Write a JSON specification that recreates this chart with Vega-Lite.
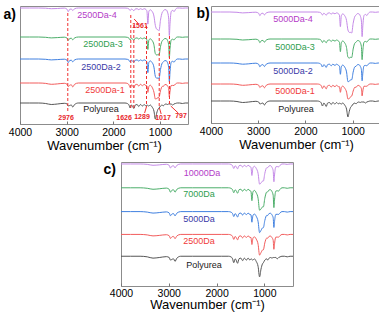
{
  "$schema": "https://vega.github.io/schema/vega-lite/v6.json",
  "padding": {"left": 2, "top": 5, "right": 0, "bottom": 0},
  "background": "white",
  "config": {
    "font": "Liberation Sans",
    "view": {"stroke": "#8c8c8c", "strokeWidth": 1},
    "axisX": {"tickSize": -3, "tickColor": "#777777", "labelPadding": 6, "labelFontSize": 10.5, "labelFlush": false, "labelOverlap": false, "domain": false, "grid": false, "titleFontSize": 13, "titleFontWeight": "normal", "titlePadding": 2, "labelColor": "#000000", "titleColor": "#000000"},
    "axisY": {"labels": false, "ticks": false, "domain": false, "grid": false, "titleAngle": 0, "titleAlign": "left", "titleBaseline": "top", "titleFontSize": 14, "titleFontWeight": "bold", "titleColor": "#000000"}
  },
  "datasets": {
    "specA": [
      {"wn":4000,"P":21,"S1":41,"S2":65,"S3":87,"S4":116},
      {"wn":3800,"P":21,"S1":41,"S2":65,"S3":87,"S4":116},
      {"wn":3600,"P":21,"S1":41,"S2":65,"S3":87,"S4":116},
      {"wn":3450,"P":20.5,"S1":40.6,"S2":64.7,"S3":86.7,"S4":115.8},
      {"wn":3330,"P":19.5,"S1":39.7,"S2":64.1,"S3":86.1,"S4":115.3},
      {"wn":3200,"P":20,"S1":40.1,"S2":64.4,"S3":86.4,"S4":115.5},
      {"wn":3050,"P":20.7,"S1":40.7,"S2":64.8,"S3":86.8,"S4":115.9},
      {"wn":2990,"P":20,"S1":39.7,"S2":63.7,"S3":85.8,"S4":114.7},
      {"wn":2965,"P":18,"S1":37.3,"S2":61.4,"S3":83.6,"S4":112.3},
      {"wn":2935,"P":18.5,"S1":38.8,"S2":63.5,"S3":85.5,"S4":114.8},
      {"wn":2900,"P":19,"S1":39.2,"S2":63.8,"S3":85.8,"S4":115},
      {"wn":2870,"P":17,"S1":37.1,"S2":62.2,"S3":84.2,"S4":113.5},
      {"wn":2830,"P":19.5,"S1":39.7,"S2":64.1,"S3":86.1,"S4":115.3},
      {"wn":2750,"P":21,"S1":41,"S2":65,"S3":87,"S4":116},
      {"wn":2500,"P":21,"S1":41,"S2":65,"S3":87,"S4":116},
      {"wn":2200,"P":21,"S1":41,"S2":65,"S3":87,"S4":116},
      {"wn":1900,"P":21,"S1":41,"S2":65,"S3":87,"S4":116},
      {"wn":1750,"P":21,"S1":41,"S2":65,"S3":87,"S4":116},
      {"wn":1700,"P":20.5,"S1":40.6,"S2":64.7,"S3":86.7,"S4":115.8},
      {"wn":1665,"P":19,"S1":39.2,"S2":63.8,"S3":85.8,"S4":115},
      {"wn":1640,"P":16,"S1":36.5,"S2":62,"S3":84,"S4":113.5},
      {"wn":1610,"P":19,"S1":39.2,"S2":63.8,"S3":85.8,"S4":115},
      {"wn":1590,"P":18,"S1":38.3,"S2":63.2,"S3":85.2,"S4":114.5},
      {"wn":1560,"P":15.5,"S1":36.1,"S2":61.7,"S3":83.7,"S4":113.3},
      {"wn":1530,"P":19,"S1":39.2,"S2":63.8,"S3":85.8,"S4":115},
      {"wn":1490,"P":19.5,"S1":39.7,"S2":64.1,"S3":86.1,"S4":115.3},
      {"wn":1455,"P":17.5,"S1":37.9,"S2":62.9,"S3":84.9,"S4":114.3},
      {"wn":1420,"P":19.5,"S1":39.7,"S2":64.1,"S3":86.1,"S4":115.3},
      {"wn":1375,"P":18,"S1":38.3,"S2":63.2,"S3":85.2,"S4":114.5},
      {"wn":1340,"P":19.5,"S1":39.7,"S2":64.1,"S3":86.1,"S4":115.3},
      {"wn":1300,"P":18,"S1":38.3,"S2":63.2,"S3":85.2,"S4":114.5},
      {"wn":1280,"P":19,"S1":38.2,"S2":62,"S3":84.2,"S4":112.8},
      {"wn":1260,"P":18.5,"S1":31.6,"S2":51.4,"S3":74.5,"S4":99.9},
      {"wn":1240,"P":18,"S1":37.3,"S2":61.4,"S3":83.6,"S4":112.3},
      {"wn":1210,"P":19,"S1":38.8,"S2":63.1,"S3":85.2,"S4":114.2},
      {"wn":1170,"P":17,"S1":36.8,"S2":61.5,"S3":83.6,"S4":112.7},
      {"wn":1130,"P":13,"S1":31.9,"S2":56.9,"S3":79.2,"S4":108},
      {"wn":1100,"P":5,"S1":25,"S2":47.7,"S3":70.4,"S4":98.6},
      {"wn":1070,"P":11,"S1":25.5,"S2":45.8,"S3":69,"S4":94.8},
      {"wn":1040,"P":15,"S1":26.5,"S2":46,"S3":69.4,"S4":94.1},
      {"wn":1020,"P":16,"S1":26.8,"S2":45.5,"S3":69,"S4":93.3},
      {"wn":990,"P":18,"S1":33.1,"S2":54.4,"S3":77.2,"S4":103.7},
      {"wn":950,"P":19,"S1":37.6,"S2":61.2,"S3":83.4,"S4":111.8},
      {"wn":930,"P":18,"S1":37.5,"S2":61.9,"S3":84,"S4":112.9},
      {"wn":900,"P":19.5,"S1":39.3,"S2":63.4,"S3":85.5,"S4":114.4},
      {"wn":870,"P":20,"S1":39.5,"S2":63.3,"S3":85.4,"S4":114.2},
      {"wn":840,"P":19.5,"S1":38.1,"S2":61.5,"S3":83.7,"S4":112},
      {"wn":815,"P":20,"S1":35.6,"S2":56.7,"S3":79.4,"S4":106.1},
      {"wn":800,"P":20,"S1":27.1,"S2":42.4,"S3":66.4,"S4":88.5},
      {"wn":785,"P":20,"S1":33,"S2":52.3,"S3":75.4,"S4":100.7},
      {"wn":760,"P":20,"S1":38.5,"S2":61.8,"S3":84,"S4":112.3},
      {"wn":730,"P":19,"S1":38.6,"S2":62.7,"S3":84.8,"S4":113.7},
      {"wn":700,"P":20,"S1":38.5,"S2":61.8,"S3":84,"S4":112.3},
      {"wn":670,"P":20.5,"S1":39.9,"S2":63.6,"S3":85.7,"S4":114.4},
      {"wn":630,"P":21,"S1":41,"S2":65,"S3":87,"S4":116},
      {"wn":580,"P":21,"S1":41,"S2":65,"S3":87,"S4":116},
      {"wn":520,"P":20.5,"S1":40.6,"S2":64.7,"S3":86.7,"S4":115.8},
      {"wn":460,"P":21,"S1":41,"S2":65,"S3":87,"S4":116},
      {"wn":400,"P":21,"S1":41,"S2":65,"S3":87,"S4":116}
    ],
    "specB": [
      {"wn":4000,"P":22,"S1":39,"S2":60,"S3":84,"S4":111},
      {"wn":3800,"P":22,"S1":39,"S2":60,"S3":84,"S4":111},
      {"wn":3600,"P":22,"S1":39,"S2":60,"S3":84,"S4":111},
      {"wn":3450,"P":21.5,"S1":38.6,"S2":59.6,"S3":83.7,"S4":110.7},
      {"wn":3330,"P":20.5,"S1":37.7,"S2":58.8,"S3":83,"S4":110.1},
      {"wn":3200,"P":21,"S1":38.1,"S2":59.2,"S3":83.3,"S4":110.4},
      {"wn":3050,"P":21.7,"S1":38.7,"S2":59.8,"S3":83.8,"S4":110.8},
      {"wn":2990,"P":21,"S1":37.8,"S2":58.7,"S3":82.7,"S4":109.7},
      {"wn":2965,"P":19,"S1":35.4,"S2":56.2,"S3":80.3,"S4":107.3},
      {"wn":2935,"P":19.5,"S1":36.8,"S2":58,"S3":82.3,"S4":109.5},
      {"wn":2900,"P":20,"S1":37.2,"S2":58.4,"S3":82.6,"S4":109.8},
      {"wn":2870,"P":18,"S1":35.2,"S2":56.5,"S3":80.8,"S4":108.1},
      {"wn":2830,"P":20.5,"S1":37.7,"S2":58.8,"S3":83,"S4":110.1},
      {"wn":2750,"P":22,"S1":39,"S2":60,"S3":84,"S4":111},
      {"wn":2500,"P":22,"S1":39,"S2":60,"S3":84,"S4":111},
      {"wn":2200,"P":22,"S1":39,"S2":60,"S3":84,"S4":111},
      {"wn":1900,"P":22,"S1":39,"S2":60,"S3":84,"S4":111},
      {"wn":1750,"P":22,"S1":39,"S2":60,"S3":84,"S4":111},
      {"wn":1700,"P":21.5,"S1":38.6,"S2":59.6,"S3":83.7,"S4":110.7},
      {"wn":1665,"P":20,"S1":37.2,"S2":58.4,"S3":82.6,"S4":109.8},
      {"wn":1640,"P":17,"S1":34.5,"S2":56,"S3":80.5,"S4":108},
      {"wn":1610,"P":20,"S1":37.2,"S2":58.4,"S3":82.6,"S4":109.8},
      {"wn":1590,"P":19,"S1":36.3,"S2":57.6,"S3":81.9,"S4":109.2},
      {"wn":1560,"P":16.5,"S1":34.1,"S2":55.6,"S3":80.2,"S4":107.7},
      {"wn":1530,"P":20,"S1":37.2,"S2":58.4,"S3":82.6,"S4":109.8},
      {"wn":1490,"P":20.5,"S1":37.7,"S2":58.8,"S3":83,"S4":110.1},
      {"wn":1455,"P":18.5,"S1":35.9,"S2":57.2,"S3":81.6,"S4":108.9},
      {"wn":1420,"P":20.5,"S1":37.7,"S2":58.8,"S3":83,"S4":110.1},
      {"wn":1375,"P":19,"S1":36.3,"S2":57.6,"S3":81.9,"S4":109.2},
      {"wn":1340,"P":20.5,"S1":37.7,"S2":58.8,"S3":83,"S4":110.1},
      {"wn":1300,"P":19,"S1":36.3,"S2":57.6,"S3":81.9,"S4":109.2},
      {"wn":1280,"P":20,"S1":36.3,"S2":57,"S3":81,"S4":107.9},
      {"wn":1260,"P":19.5,"S1":30.7,"S2":48.7,"S3":71.3,"S4":96.3},
      {"wn":1240,"P":19,"S1":35.4,"S2":56.2,"S3":80.3,"S4":107.3},
      {"wn":1210,"P":20,"S1":36.9,"S2":57.9,"S3":82,"S4":109.1},
      {"wn":1170,"P":18,"S1":34.9,"S2":56,"S3":80.2,"S4":107.4},
      {"wn":1130,"P":14,"S1":31,"S2":51.1,"S3":75.4,"S4":102.6},
      {"wn":1100,"P":6,"S1":24,"S2":41.3,"S3":65.8,"S4":93},
      {"wn":1070,"P":12,"S1":24.5,"S2":41.8,"S3":65,"S4":90.6},
      {"wn":1040,"P":16,"S1":26.5,"S2":43.3,"S3":65.8,"S4":90.6},
      {"wn":1020,"P":17,"S1":27,"S2":43.3,"S3":65.5,"S4":90},
      {"wn":990,"P":19,"S1":31.9,"S2":50.8,"S3":73.9,"S4":99.6},
      {"wn":950,"P":20,"S1":35.9,"S2":56.4,"S3":80.2,"S4":106.9},
      {"wn":930,"P":19,"S1":35.6,"S2":56.6,"S3":80.7,"S4":107.8},
      {"wn":900,"P":20.5,"S1":37.3,"S2":58.3,"S3":82.4,"S4":109.4},
      {"wn":870,"P":21,"S1":37.6,"S2":58.4,"S3":82.3,"S4":109.2},
      {"wn":840,"P":20.5,"S1":36.3,"S2":56.8,"S3":80.6,"S4":107.2},
      {"wn":815,"P":21,"S1":34.3,"S2":53.3,"S3":76.3,"S4":102},
      {"wn":800,"P":21,"S1":27.1,"S2":42.2,"S3":63.3,"S4":86.4},
      {"wn":785,"P":21,"S1":32.1,"S2":49.9,"S3":72.3,"S4":97.2},
      {"wn":760,"P":21,"S1":36.8,"S2":57.2,"S3":80.9,"S4":107.5},
      {"wn":730,"P":20,"S1":36.7,"S2":57.6,"S3":81.6,"S4":108.6},
      {"wn":700,"P":21,"S1":36.8,"S2":57.2,"S3":80.9,"S4":107.5},
      {"wn":670,"P":21.5,"S1":38,"S2":58.8,"S3":82.7,"S4":109.5},
      {"wn":630,"P":22,"S1":39,"S2":60,"S3":84,"S4":111},
      {"wn":580,"P":22,"S1":39,"S2":60,"S3":84,"S4":111},
      {"wn":520,"P":21.5,"S1":38.6,"S2":59.6,"S3":83.7,"S4":110.7},
      {"wn":460,"P":22,"S1":39,"S2":60,"S3":84,"S4":111},
      {"wn":400,"P":22,"S1":39,"S2":60,"S3":84,"S4":111}
    ],
    "specC": [
      {"wn":4000,"P":30,"S1":52,"S2":75,"S3":99,"S4":123},
      {"wn":3800,"P":30,"S1":52,"S2":75,"S3":99,"S4":123},
      {"wn":3600,"P":30,"S1":52,"S2":75,"S3":99,"S4":123},
      {"wn":3450,"P":29.4,"S1":51.5,"S2":74.5,"S3":98.5,"S4":122.6},
      {"wn":3330,"P":28.1,"S1":50.5,"S2":73.5,"S3":97.5,"S4":121.7},
      {"wn":3200,"P":28.7,"S1":51,"S2":74,"S3":98,"S4":122.1},
      {"wn":3050,"P":29.6,"S1":51.7,"S2":74.7,"S3":98.7,"S4":122.7},
      {"wn":2990,"P":28.7,"S1":50.6,"S2":73.6,"S3":97.4,"S4":121.6},
      {"wn":2965,"P":26.1,"S1":47.9,"S2":70.8,"S3":94.5,"S4":118.9},
      {"wn":2935,"P":26.8,"S1":49.5,"S2":72.5,"S3":96.5,"S4":120.8},
      {"wn":2900,"P":27.4,"S1":50,"S2":73,"S3":97,"S4":121.2},
      {"wn":2870,"P":24.8,"S1":47.7,"S2":70.7,"S3":94.6,"S4":119.1},
      {"wn":2830,"P":28.1,"S1":50.5,"S2":73.5,"S3":97.5,"S4":121.7},
      {"wn":2750,"P":30,"S1":52,"S2":75,"S3":99,"S4":123},
      {"wn":2500,"P":30,"S1":52,"S2":75,"S3":99,"S4":123},
      {"wn":2200,"P":30,"S1":52,"S2":75,"S3":99,"S4":123},
      {"wn":1900,"P":30,"S1":52,"S2":75,"S3":99,"S4":123},
      {"wn":1750,"P":30,"S1":52,"S2":75,"S3":99,"S4":123},
      {"wn":1700,"P":29.4,"S1":51.5,"S2":74.5,"S3":98.5,"S4":122.6},
      {"wn":1665,"P":27.4,"S1":50,"S2":73,"S3":97,"S4":121.2},
      {"wn":1640,"P":23.5,"S1":47,"S2":70,"S3":94,"S4":118.5},
      {"wn":1610,"P":27.4,"S1":50,"S2":73,"S3":97,"S4":121.2},
      {"wn":1590,"P":26.1,"S1":49,"S2":72,"S3":96,"S4":120.3},
      {"wn":1560,"P":22.9,"S1":46.5,"S2":69.5,"S3":93.5,"S4":118.1},
      {"wn":1530,"P":27.4,"S1":50,"S2":73,"S3":97,"S4":121.2},
      {"wn":1490,"P":28.1,"S1":50.5,"S2":73.5,"S3":97.5,"S4":121.7},
      {"wn":1455,"P":25.5,"S1":48.5,"S2":71.5,"S3":95.5,"S4":119.9},
      {"wn":1420,"P":28.1,"S1":50.5,"S2":73.5,"S3":97.5,"S4":121.7},
      {"wn":1375,"P":26.1,"S1":49,"S2":72,"S3":96,"S4":120.3},
      {"wn":1340,"P":28.1,"S1":50.5,"S2":73.5,"S3":97.5,"S4":121.7},
      {"wn":1300,"P":26.1,"S1":49,"S2":72,"S3":96,"S4":120.3},
      {"wn":1280,"P":27.4,"S1":48.9,"S2":71.8,"S3":95.5,"S4":119.8},
      {"wn":1260,"P":26.8,"S1":41.8,"S2":64.3,"S3":86,"S4":111.4},
      {"wn":1240,"P":26.1,"S1":47.9,"S2":70.8,"S3":94.5,"S4":118.9},
      {"wn":1210,"P":27.4,"S1":49.6,"S2":72.6,"S3":96.4,"S4":120.7},
      {"wn":1170,"P":24.8,"S1":47.3,"S2":70.3,"S3":94,"S4":118.6},
      {"wn":1130,"P":19.6,"S1":41.9,"S2":64.8,"S3":88.2,"S4":113.3},
      {"wn":1100,"P":9.2,"S1":31.1,"S2":53.8,"S3":76.4,"S4":102.7},
      {"wn":1070,"P":17,"S1":33.6,"S2":56,"S3":77.6,"S4":103.8},
      {"wn":1040,"P":22.2,"S1":36.2,"S2":58.5,"S3":79.7,"S4":105.7},
      {"wn":1020,"P":23.5,"S1":36.5,"S2":58.8,"S3":79.8,"S4":105.8},
      {"wn":990,"P":26.1,"S1":43.4,"S2":66,"S3":88.4,"S4":113.5},
      {"wn":950,"P":27.4,"S1":48.3,"S2":71.2,"S3":94.7,"S4":119.2},
      {"wn":930,"P":26.1,"S1":48.2,"S2":71.1,"S3":94.9,"S4":119.3},
      {"wn":900,"P":28.1,"S1":50.1,"S2":73.1,"S3":96.9,"S4":121.1},
      {"wn":870,"P":28.7,"S1":50.3,"S2":73.3,"S3":97,"S4":121.3},
      {"wn":840,"P":28.1,"S1":48.8,"S2":71.7,"S3":95.2,"S4":119.6},
      {"wn":815,"P":28.7,"S1":46.1,"S2":68.8,"S3":91.4,"S4":116.2},
      {"wn":800,"P":28.7,"S1":37,"S2":59,"S3":79,"S4":105.1},
      {"wn":785,"P":28.7,"S1":43.3,"S2":65.8,"S3":87.6,"S4":112.8},
      {"wn":760,"P":28.7,"S1":49.3,"S2":72.2,"S3":95.7,"S4":120.1},
      {"wn":730,"P":27.4,"S1":49.3,"S2":72.3,"S3":96,"S4":120.4},
      {"wn":700,"P":28.7,"S1":49.3,"S2":72.2,"S3":95.7,"S4":120.1},
      {"wn":670,"P":29.4,"S1":50.8,"S2":73.8,"S3":97.6,"S4":121.7},
      {"wn":630,"P":30,"S1":52,"S2":75,"S3":99,"S4":123},
      {"wn":580,"P":30,"S1":52,"S2":75,"S3":99,"S4":123},
      {"wn":520,"P":29.4,"S1":51.5,"S2":74.5,"S3":98.5,"S4":122.6},
      {"wn":460,"P":30,"S1":52,"S2":75,"S3":99,"S4":123},
      {"wn":400,"P":30,"S1":52,"S2":75,"S3":99,"S4":123}
    ],
    "namesA": [
      {"k":"S4","name":"2500Da-4","wn":2350,"y":109},
      {"k":"S3","name":"2500Da-3","wn":2221,"y":80},
      {"k":"S2","name":"2500Da-2","wn":2264,"y":57},
      {"k":"S1","name":"2500Da-1","wn":2179,"y":34},
      {"k":"P","name":"Polyurea","wn":2264,"y":15}
    ],
    "namesB": [
      {"k":"S4","name":"5000Da-4","wn":2264,"y":104},
      {"k":"S3","name":"5000Da-3","wn":2221,"y":76},
      {"k":"S2","name":"5000Da-2","wn":2264,"y":52},
      {"k":"S1","name":"5000Da-1","wn":2221,"y":32},
      {"k":"P","name":"Polyurea","wn":2200,"y":14}
    ],
    "namesC": [
      {"k":"S4","name":"10000Da","wn":2305,"y":114},
      {"k":"S3","name":"7000Da","wn":2367,"y":93},
      {"k":"S2","name":"5000Da","wn":2367,"y":68},
      {"k":"S1","name":"2500Da","wn":2367,"y":45},
      {"k":"P","name":"Polyurea","wn":2263,"y":21}
    ],
    "peakLines": [
      {"wn":2976,"y1":13,"y2":111},
      {"wn":1626,"y1":16,"y2":110},
      {"wn":1561,"y1":16,"y2":100},
      {"wn":1289,"y1":20,"y2":100},
      {"wn":1017,"y1":18,"y2":91},
      {"wn":797,"y1":20,"y2":90}
    ],
    "arrows": [
      {"wa":1555,"ya":105,"wb":1475,"yb":101},
      {"wa":1330,"ya":11,"wb":1285,"yb":18},
      {"wa":975,"ya":10,"wb":1012,"yb":16},
      {"wa":610,"ya":11,"wb":770,"yb":18}
    ],
    "peakLabels": [
      {"label":"2976","wn":3014,"y":6},
      {"label":"1626","wn":1771,"y":6},
      {"label":"1289","wn":1386,"y":7},
      {"label":"1017","wn":936,"y":6},
      {"label":"797","wn":550,"y":8},
      {"label":"1561","wn":1429,"y":98}
    ]
  },
  "vconcat": [
    {
      "hconcat": [
        {
          "width": 168,
          "height": 118,
          "resolve": {"scale": {"color": "independent"}},
          "layer": [
            {
              "data": {"name": "specA"},
              "transform": [{"fold": ["P", "S1", "S2", "S3", "S4"], "as": ["k", "t"]}],
              "mark": {"type": "line", "strokeWidth": 1, "interpolate": "monotone", "clip": true},
              "encoding": {
                "x": {"field": "wn", "type": "quantitative", "title": "Wavenumber (cm⁻¹)", "scale": {"domain": [4000, 400], "nice": false, "zero": false}, "axis": {"values": [4000, 3500, 3000, 2500, 2000, 1500, 1000, 500], "labelExpr": "datum.value % 1000 === 0 ? datum.label : ''", "format": "d"}},
                "y": {"field": "t", "type": "quantitative", "title": "a)", "scale": {"domain": [0, 118], "nice": false, "zero": false}, "axis": {"titleX": -17, "titleY": 1}},
                "color": {"field": "k", "type": "nominal", "scale": {"domain": ["P", "S1", "S2", "S3", "S4"], "range": ["#555555", "#f25c5c", "#4080e0", "#4cae6a", "#c58ae8"]}, "legend": null}
              }
            },
            {
              "data": {"name": "peakLines"},
              "mark": {"type": "rule", "color": "#f03030", "strokeWidth": 1, "strokeDash": [3, 2]},
              "encoding": {
                "x": {"field": "wn", "type": "quantitative", "title": "Wavenumber (cm⁻¹)", "scale": {"domain": [4000, 400], "nice": false, "zero": false}},
                "y": {"field": "y1", "type": "quantitative", "title": "a)", "scale": {"domain": [0, 118], "nice": false, "zero": false}},
                "y2": {"field": "y2"}
              }
            },
            {
              "data": {"name": "arrows"},
              "mark": {"type": "rule", "color": "#f03030", "strokeWidth": 1},
              "encoding": {
                "x": {"field": "wa", "type": "quantitative", "title": "Wavenumber (cm⁻¹)", "scale": {"domain": [4000, 400], "nice": false, "zero": false}},
                "x2": {"field": "wb"},
                "y": {"field": "ya", "type": "quantitative", "title": "a)", "scale": {"domain": [0, 118], "nice": false, "zero": false}},
                "y2": {"field": "yb"}
              }
            },
            {
              "data": {"name": "peakLabels"},
              "mark": {"type": "text", "color": "#e8262b", "fontSize": 7, "fontWeight": "bold"},
              "encoding": {
                "x": {"field": "wn", "type": "quantitative", "title": "Wavenumber (cm⁻¹)", "scale": {"domain": [4000, 400], "nice": false, "zero": false}},
                "y": {"field": "y", "type": "quantitative", "title": "a)", "scale": {"domain": [0, 118], "nice": false, "zero": false}},
                "text": {"field": "label"}
              }
            },
            {
              "data": {"name": "namesA"},
              "mark": {"type": "text", "fontSize": 9},
              "encoding": {
                "x": {"field": "wn", "type": "quantitative", "title": "Wavenumber (cm⁻¹)", "scale": {"domain": [4000, 400], "nice": false, "zero": false}},
                "y": {"field": "y", "type": "quantitative", "title": "a)", "scale": {"domain": [0, 118], "nice": false, "zero": false}},
                "text": {"field": "name"},
                "color": {"field": "k", "type": "nominal", "scale": {"domain": ["P", "S1", "S2", "S3", "S4"], "range": ["#1a1a1a", "#f03a3a", "#3a3aa8", "#2f9e50", "#b43cc8"]}, "legend": null}
              }
            }
          ]
        },
        {
          "width": 170,
          "height": 117,
          "resolve": {"scale": {"color": "independent"}},
          "layer": [
            {
              "data": {"name": "specB"},
              "transform": [{"fold": ["P", "S1", "S2", "S3", "S4"], "as": ["k", "t"]}],
              "mark": {"type": "line", "strokeWidth": 1, "interpolate": "monotone", "clip": true},
              "encoding": {
                "x": {"field": "wn", "type": "quantitative", "title": "Wavenumber (cm⁻¹)", "scale": {"domain": [4000, 400], "nice": false, "zero": false}, "axis": {"values": [4000, 3500, 3000, 2500, 2000, 1500, 1000, 500], "labelExpr": "datum.value % 1000 === 0 ? datum.label : ''", "format": "d"}},
                "y": {"field": "t", "type": "quantitative", "title": "b)", "scale": {"domain": [0, 117], "nice": false, "zero": false}, "axis": {"titleX": -15, "titleY": 0}},
                "color": {"field": "k", "type": "nominal", "scale": {"domain": ["P", "S1", "S2", "S3", "S4"], "range": ["#555555", "#f25c5c", "#4080e0", "#4cae6a", "#c58ae8"]}, "legend": null}
              }
            },
            {
              "data": {"name": "namesB"},
              "mark": {"type": "text", "fontSize": 9},
              "encoding": {
                "x": {"field": "wn", "type": "quantitative", "title": "Wavenumber (cm⁻¹)", "scale": {"domain": [4000, 400], "nice": false, "zero": false}},
                "y": {"field": "y", "type": "quantitative", "title": "b)", "scale": {"domain": [0, 117], "nice": false, "zero": false}},
                "text": {"field": "name"},
                "color": {"field": "k", "type": "nominal", "scale": {"domain": ["P", "S1", "S2", "S3", "S4"], "range": ["#1a1a1a", "#f03a3a", "#3a3aa8", "#2f9e50", "#b43cc8"]}, "legend": null}
              }
            }
          ]
        }
      ],
      "spacing": 6
    },
    {
      "hconcat": [
        {
          "width": 74,
          "height": 10,
          "view": {"stroke": null, "fill": "white"},
          "data": {"values": [{"a": 1}]},
          "mark": {"type": "point", "opacity": 0},
          "encoding": {}
        },
        {
          "width": 172,
          "height": 124,
          "resolve": {"scale": {"color": "independent"}},
          "layer": [
            {
              "data": {"name": "specC"},
              "transform": [{"fold": ["P", "S1", "S2", "S3", "S4"], "as": ["k", "t"]}],
              "mark": {"type": "line", "strokeWidth": 1, "interpolate": "monotone", "clip": true},
              "encoding": {
                "x": {"field": "wn", "type": "quantitative", "title": "Wavenumber (cm⁻¹)", "scale": {"domain": [4000, 400], "nice": false, "zero": false}, "axis": {"values": [4000, 3500, 3000, 2500, 2000, 1500, 1000, 500], "labelExpr": "datum.value % 1000 === 0 ? datum.label : ''", "format": "d", "labelPadding": 5, "titlePadding": 0}},
                "y": {"field": "t", "type": "quantitative", "title": "c)", "scale": {"domain": [0, 125], "nice": false, "zero": false}, "axis": {"titleX": -18, "titleY": 0}},
                "color": {"field": "k", "type": "nominal", "scale": {"domain": ["P", "S1", "S2", "S3", "S4"], "range": ["#555555", "#f25c5c", "#4080e0", "#4cae6a", "#c58ae8"]}, "legend": null}
              }
            },
            {
              "data": {"name": "namesC"},
              "mark": {"type": "text", "fontSize": 9},
              "encoding": {
                "x": {"field": "wn", "type": "quantitative", "title": "Wavenumber (cm⁻¹)", "scale": {"domain": [4000, 400], "nice": false, "zero": false}},
                "y": {"field": "y", "type": "quantitative", "title": "c)", "scale": {"domain": [0, 125], "nice": false, "zero": false}},
                "text": {"field": "name"},
                "color": {"field": "k", "type": "nominal", "scale": {"domain": ["P", "S1", "S2", "S3", "S4"], "range": ["#1a1a1a", "#f03a3a", "#3a3aa8", "#2f9e50", "#b43cc8"]}, "legend": null}
              }
            }
          ]
        }
      ],
      "spacing": 8
    }
  ],
  "spacing": 8
}
